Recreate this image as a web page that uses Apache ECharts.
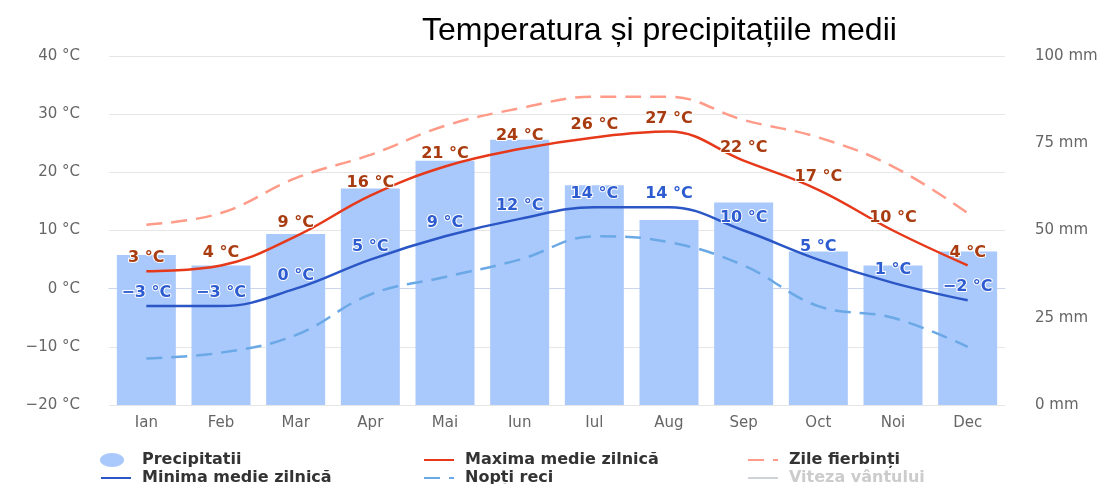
<!DOCTYPE html>
<html>
<head>
<meta charset="utf-8">
<script src="https://cdn.jsdelivr.net/npm/echarts@6/dist/echarts.min.js"></script>
<style>
html,body{margin:0;padding:0;background:#fff;}
#chart{width:1119px;height:484px;}
</style>
</head>
<body>
<div id="chart"></div>
<script>
const months = ['Ian','Feb','Mar','Apr','Mai','Iun','Iul','Aug','Sep','Oct','Noi','Dec'];
const precipitation = [43,40,49,62,70,76,63,53,58,44,40,44];
const maxTemp = [3,4,9,16,21,24,26,27,22,17,10,4];
const minTemp = [-3,-3,0,5,9,12,14,14,10,5,1,-2];
const hotDays = [11,13,19,23,28,31,33,33,29,26,21,13];
const coldNights = [-12,-11,-8,-1,2,5,9,8,4,-3,-5,-10];
const windSpeed = [];

const fmtNum = v => (v < 0 ? '\u2212' + (-v) : String(v));
const fmtC = v => fmtNum(v) + ' °C';

const chart = echarts.init(document.getElementById('chart'), null, {renderer:'canvas'});
const FONT = 'DejaVu Sans';
const labelBase = {
  show: true, position: 'top', distance: 5,
  fontFamily: FONT, fontWeight: 'bold', fontSize: 16,
  textBorderColor: '#fff', textBorderWidth: 2,
  formatter: p => fmtC(p.value)
};
const legendText = {fontFamily: FONT, fontWeight: 'bold', fontSize: 16, color: '#333', padding: [0,0,0,6]};
function mkLegend(name, left, top, extra) {
  return Object.assign({
    left: left, top: top, orient: 'horizontal', padding: 0,
    itemWidth: 30, itemHeight: 14, textStyle: legendText, inactiveColor: '#ccc',
    itemStyle: {opacity: 0},
    selected: {'Viteza vântului': false},
    data: [name]
  }, extra || {});
}

chart.setOption({
  animation: false,
  title: {
    text: 'Temperatura și precipitațiile medii',
    left: 422, top: 15, padding: 0,
    textStyle: {fontFamily: 'Liberation Sans', fontSize: 32, fontWeight: 'normal', color: '#000'}
  },
  legend: [
    mkLegend('Precipitatii', 100, 452, {itemStyle: {opacity: 1},
      textStyle: Object.assign({}, legendText, {padding: [0,0,0,10]}),
      data: [{name: 'Precipitatii', icon: 'path://M0,7 A12,7 0 1,1 24,7 A12,7 0 1,1 0,7 Z'}]}),
    mkLegend('Minima medie zilnică', 100, 470),
    mkLegend('Maxima medie zilnică', 423, 452),
    mkLegend('Nopți reci', 423, 470),
    mkLegend('Zile fierbinți', 747, 452),
    mkLegend('Viteza vântului', 747, 470)
  ],
  grid: {left: 109, right: 114, top: 56, bottom: 79},
  xAxis: {
    type: 'category', data: months,
    axisLine: {lineStyle: {color: '#ccd6eb', width: 1}},
    axisTick: {show: false},
    axisLabel: {color: '#666', fontFamily: FONT, fontSize: 15, margin: 11}
  },
  yAxis: [
    {type: 'value', min: -20, max: 40, interval: 10,
     axisLine: {show: false}, axisTick: {show: false},
     splitLine: {lineStyle: {color: '#e6e6e6', width: 1}},
     axisLabel: {color: '#666', fontFamily: FONT, fontSize: 15, margin: 29, formatter: fmtC}},
    {type: 'value', min: 0, max: 100, interval: 25, position: 'right',
     axisLine: {show: false}, axisTick: {show: false}, splitLine: {show: false},
     axisLabel: {color: '#666', fontFamily: FONT, fontSize: 15, margin: 30, formatter: v => v + ' mm'}}
  ],
  series: [
    {name: 'Precipitatii', type: 'bar', yAxisIndex: 1, data: precipitation,
     barCategoryGap: '21%', itemStyle: {color: '#a9c8fc'}, z: 1},
    {name: 'Maxima medie zilnică', type: 'line', data: maxTemp, smooth: 0.4,
     symbol: 'circle', symbolSize: 0.01, showSymbol: true,
     lineStyle: {color: '#e6391a', width: 2.5}, itemStyle: {color: '#e6391a'},
     label: Object.assign({color: '#a83c10'}, labelBase), z: 5},
    {name: 'Zile fierbinți', type: 'line', data: hotDays, smooth: 0.4, symbol: 'none',
     lineStyle: {color: '#ff9b88', width: 2.5, type: [16, 9]}, itemStyle: {color: '#ff9b88'}, z: 3},
    {name: 'Minima medie zilnică', type: 'line', data: minTemp, smooth: 0.4,
     symbol: 'circle', symbolSize: 0.01, showSymbol: true,
     lineStyle: {color: '#2a56c6', width: 2.5}, itemStyle: {color: '#2a56c6'},
     label: Object.assign({color: '#2d5bd0'}, labelBase), z: 5},
    {name: 'Nopți reci', type: 'line', data: coldNights, smooth: 0.4, symbol: 'none',
     lineStyle: {color: '#6aa9e6', width: 2.5, type: [16, 9]}, itemStyle: {color: '#6aa9e6'}, z: 3},
    {name: 'Viteza vântului', type: 'line', data: windSpeed, symbol: 'none',
     lineStyle: {color: '#aaaaaa', width: 2.5}, itemStyle: {color: '#aaaaaa'}}
  ]
});
</script>
</body>
</html>
